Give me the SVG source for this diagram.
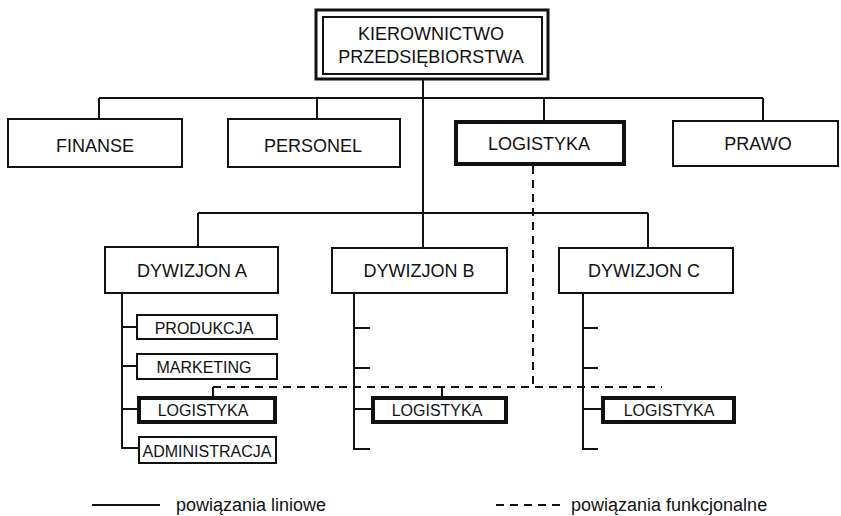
<svg xmlns="http://www.w3.org/2000/svg" width="841" height="516" viewBox="0 0 841 516">
  <style>
    .box { fill: #fff; stroke: #111; stroke-width: 2; }
    .bold { fill: #fff; stroke: #111; stroke-width: 4; }
    .ln { fill: none; stroke: #111; stroke-width: 2; }
    .fn { fill: none; stroke: #111; stroke-width: 2; stroke-dasharray: 8 6; }
    text { font-family: "Liberation Sans", Arial, sans-serif; fill: #111; text-anchor: middle; }
    .l1 { font-size: 18px; }
    .l2 { font-size: 16px; }
    .lg { font-size: 18px; text-anchor: start; }
  </style>
  <rect width="841" height="516" fill="#fff"/>

  <!-- connectors: solid = line relations, dashed = functional relations -->
  <g id="connectors">
    <path class="ln" d="M423 79 V248"/>
    <path class="ln" d="M99 98 H763 M99 98 V119 M317 98 V119 M544 98 V121 M763 98 V121"/>
    <path class="ln" d="M198 213 H648 M198 213 V247 M648 213 V248"/>
    <path class="ln" d="M122 293 V448 H139 M122 327 H137 M122 366 H137 M122 409 H138"/>
    <path class="ln" d="M354 293 V449 H370 M354 328 H370 M354 368 H370 M354 409 H372"/>
    <path class="ln" d="M583 293 V449 H598 M583 328 H598 M583 368 H598 M583 409 H602"/>
    <path class="ln" d="M213 387 V397 M442 387 V397"/>
    <path class="fn" d="M533 166 V387"/>
    <path class="fn" d="M213 387 H662"/>
  </g>

  <g id="kierownictwo">
    <rect x="316" y="10" width="232" height="69" fill="#fff" stroke="#111" stroke-width="3"/>
    <rect x="323" y="17" width="219" height="57" class="box"/>
    <text class="l1" x="431" y="40">KIEROWNICTWO</text>
    <text class="l1" x="431" y="63">PRZEDSIĘBIORSTWA</text>
  </g>

  <g id="finanse">
    <rect x="8" y="119" width="174" height="48" class="box"/>
    <text class="l1" x="95" y="152">FINANSE</text>
  </g>
  <g id="personel">
    <rect x="228" y="119" width="172" height="48" class="box"/>
    <text class="l1" x="313" y="152">PERSONEL</text>
  </g>
  <g id="logistyka">
    <rect x="456" y="122" width="168" height="42" class="bold"/>
    <text class="l1" x="539" y="150">LOGISTYKA</text>
  </g>
  <g id="prawo">
    <rect x="673" y="121" width="165" height="45" class="box"/>
    <text class="l1" x="758" y="150">PRAWO</text>
  </g>

  <g id="dywizjon-a">
    <rect x="105" y="247" width="173" height="46" class="box"/>
    <text class="l1" x="192" y="277">DYWIZJON A</text>
  </g>
  <g id="dywizjon-b">
    <rect x="332" y="248" width="175" height="45" class="box"/>
    <text class="l1" x="419" y="277">DYWIZJON B</text>
  </g>
  <g id="dywizjon-c">
    <rect x="559" y="248" width="174" height="45" class="box"/>
    <text class="l1" x="644" y="277">DYWIZJON C</text>
  </g>

  <g id="a-produkcja">
    <rect x="137" y="315" width="140" height="24" class="box"/>
    <text class="l2" x="204" y="334">PRODUKCJA</text>
  </g>
  <g id="a-marketing">
    <rect x="137" y="354" width="140" height="25" class="box"/>
    <text class="l2" x="204" y="373">MARKETING</text>
  </g>
  <g id="a-logistyka">
    <rect x="139" y="398" width="136" height="24" class="bold"/>
    <text class="l2" x="203" y="416">LOGISTYKA</text>
  </g>
  <g id="a-administracja">
    <rect x="139" y="437" width="137" height="26" class="box"/>
    <text class="l2" x="207" y="457">ADMINISTRACJA</text>
  </g>
  <g id="b-logistyka">
    <rect x="373" y="398" width="133" height="24" class="bold"/>
    <text class="l2" x="437" y="416">LOGISTYKA</text>
  </g>
  <g id="c-logistyka">
    <rect x="603" y="398" width="131" height="24" class="bold"/>
    <text class="l2" x="669" y="416">LOGISTYKA</text>
  </g>

  <g id="legend">
    <path class="ln" d="M92 505 H160"/>
    <text class="lg" x="176" y="511">powiązania liniowe</text>
    <path class="fn" d="M496 505 H560"/>
    <text class="lg" x="571" y="511">powiązania funkcjonalne</text>
  </g>
</svg>
